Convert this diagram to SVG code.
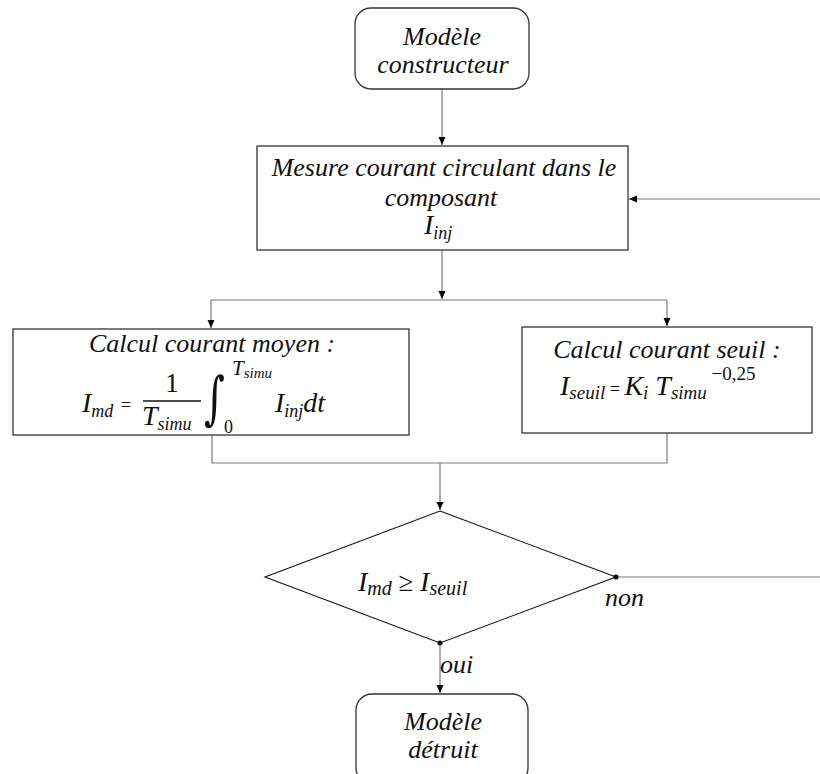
<svg xmlns="http://www.w3.org/2000/svg" width="820" height="774" viewBox="0 0 820 774">
<defs>
<marker id="arr" viewBox="0 0 8 8" refX="8" refY="4" markerWidth="8" markerHeight="8" markerUnits="userSpaceOnUse" orient="auto">
<path d="M0,0.5 L8,4 L0,7.5 Z" fill="#000"/>
</marker>
<style>
.box{fill:#fff;stroke:#333;stroke-width:1.3}
.dia{fill:#fff;stroke:#111;stroke-width:1.1}
.con{fill:none;stroke:#7a7a7a;stroke-width:1.2}
.t{font-family:"Liberation Serif",serif;font-style:italic;font-size:26px;fill:#111}
.m{font-family:"Liberation Serif",serif;font-style:italic;fill:#111}
.u{font-family:"Liberation Serif",serif;fill:#111}
</style>
</defs>
<rect width="820" height="774" fill="#fff"/>

<g id="connectors">
<line class="con" x1="442" y1="89" x2="442" y2="145" marker-end="url(#arr)"/>
<line class="con" x1="820" y1="199" x2="629" y2="199" marker-end="url(#arr)"/>
<line class="con" x1="442" y1="250" x2="442" y2="299" marker-end="url(#arr)"/>
<line class="con" x1="211" y1="300" x2="667" y2="300"/>
<line class="con" x1="211" y1="300" x2="211" y2="328" marker-end="url(#arr)"/>
<line class="con" x1="667" y1="300" x2="667" y2="326" marker-end="url(#arr)"/>
<polyline class="con" points="212,435 212,463 667,463 667,433"/>
<line class="con" x1="440" y1="463" x2="440" y2="510" marker-end="url(#arr)"/>
<line class="con" x1="616" y1="577" x2="820" y2="577"/>
<line class="con" x1="440" y1="643" x2="440" y2="693" marker-end="url(#arr)"/>
</g>

<g id="n-modele-constructeur">
<rect class="box" x="355" y="8" width="174" height="81" rx="16"/>
<text class="t" x="442" y="45" text-anchor="middle">Modèle</text>
<text class="t" x="443" y="73" text-anchor="middle">constructeur</text>
</g>

<g id="n-mesure">
<rect class="box" x="257" y="146" width="371" height="104"/>
<text class="t" x="444" y="176" text-anchor="middle">Mesure courant circulant dans le</text>
<text class="t" x="441" y="206" text-anchor="middle">composant</text>
<text class="m" x="424" y="234" font-size="28">I<tspan font-size="18" dy="5">inj</tspan></text>
</g>

<g id="n-moyen">
<rect class="box" x="13" y="329" width="396" height="106"/>
<text class="t" x="212" y="352" text-anchor="middle">Calcul courant moyen :</text>
<text class="m" x="82" y="412" font-size="28">I<tspan font-size="18" dy="5">md</tspan></text>
<text class="u" x="121" y="411" font-size="18">=</text>
<text class="u" x="172" y="392" font-size="27" text-anchor="middle">1</text>
<line x1="143" y1="401" x2="201" y2="401" stroke="#111" stroke-width="1.4"/>
<text class="m" x="142" y="425" font-size="28">T<tspan font-size="18" dy="5">simu</tspan></text>
<text class="u" x="0" y="0" font-size="40" transform="translate(204,418) scale(1,1.45)" style="font-family:'DejaVu Serif',serif">∫</text>
<text class="u" x="224" y="433" font-size="18">0</text>
<text class="m" x="232" y="375" font-size="21">T<tspan font-size="15" dy="3">simu</tspan></text>
<text class="m" x="275" y="412" font-size="28">I<tspan font-size="18" dy="5">inj</tspan><tspan font-size="28" dy="-5">dt</tspan></text>
</g>

<g id="n-seuil">
<rect class="box" x="522" y="327" width="290" height="106"/>
<text class="t" x="667" y="358" text-anchor="middle">Calcul courant seuil :</text>
<text class="m" x="560" y="395" font-size="28">I<tspan font-size="19" dy="4">seuil</tspan><tspan class="u" font-style="normal" font-size="18" dy="-4"> = </tspan><tspan font-size="28">K</tspan><tspan font-size="19" dy="4">i</tspan><tspan font-size="28" dy="-4"> T</tspan><tspan font-size="19" dy="4">simu</tspan><tspan font-style="normal" font-size="19" dy="-19"> −0,25</tspan></text>
</g>

<g id="n-test">
<polygon class="dia" points="440,511 616,577 440,643 265,577"/>
<circle cx="616" cy="577" r="2.5" fill="#000"/>
<circle cx="440" cy="643" r="2.5" fill="#000"/>
<text class="m" x="358" y="591" font-size="28">I<tspan font-size="20" dy="4">md</tspan><tspan class="u" font-style="normal" font-size="27" dy="-4"> ≥ </tspan>I<tspan font-size="20" dy="4">seuil</tspan></text>
<text class="t" x="605" y="606">non</text>
<text class="t" x="440" y="673">oui</text>
</g>

<g id="n-modele-detruit">
<rect class="box" x="356" y="694" width="172" height="90" rx="16"/>
<text class="t" x="443" y="730" text-anchor="middle">Modèle</text>
<text class="t" x="443" y="758" text-anchor="middle">détruit</text>
</g>
</svg>
